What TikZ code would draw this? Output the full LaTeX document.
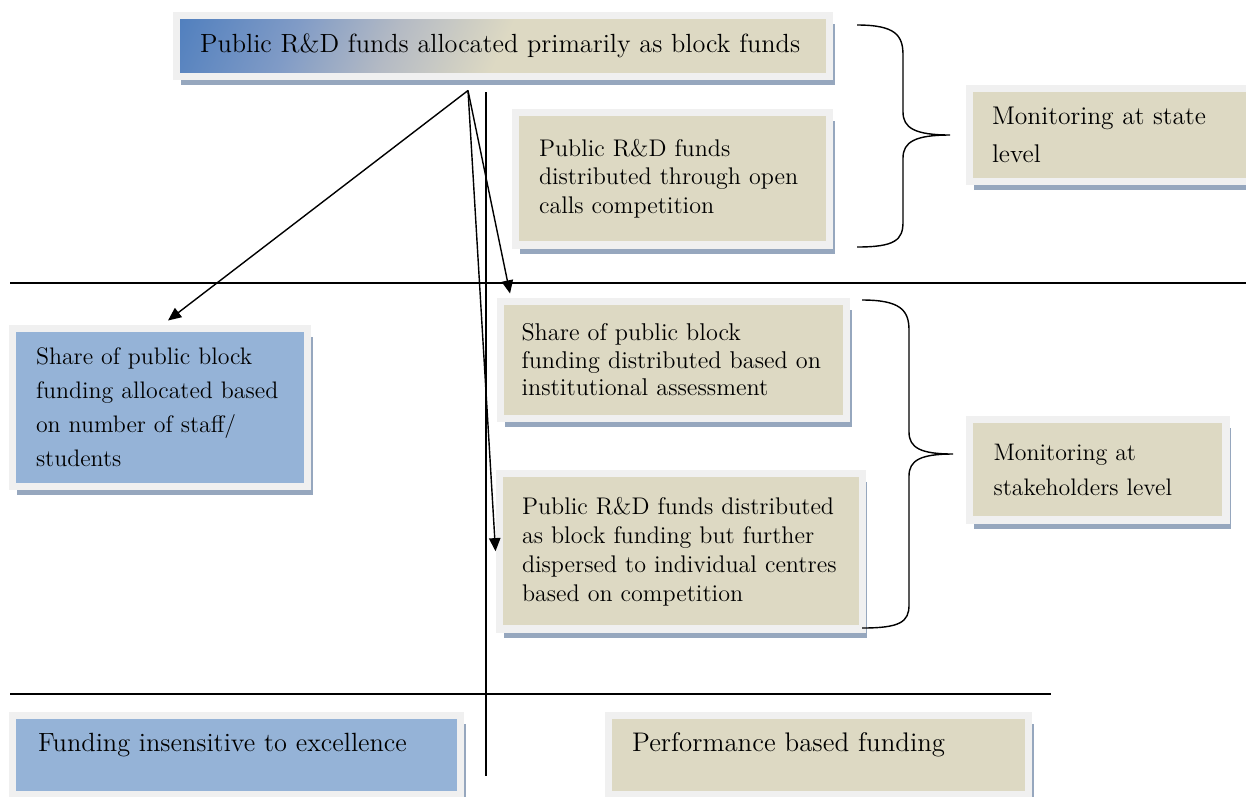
\documentclass[tikz,border=0pt]{standalone}
\usepackage{fontspec}
\setmainfont{lmroman12-regular}[Extension=.otf]
\usepackage{tikz}
\usetikzlibrary{arrows.meta,positioning,calc,shadows}
\definecolor{beige}{RGB}{221,217,195}
\definecolor{paleblue}{RGB}{149,179,215}
\definecolor{gblue}{RGB}{80,127,190}
\definecolor{glight}{RGB}{128,155,198}
\definecolor{gmid}{RGB}{180,186,196}
\definecolor{framegray}{gray}{0.94}
\definecolor{shadowblue}{RGB}{150,167,190}
\pgfdeclarehorizontalshading{topgrad}{100bp}{color(0bp)=(gblue); color(17bp)=(gblue); color(29bp)=(glight); color(39bp)=(gmid); color(50bp)=(beige); color(100bp)=(beige)}

\begin{document}
\begin{tikzpicture}[x=0.02cm, y=-0.02cm,
  box/.style={draw=framegray, line width=4pt, fill=#1, inner xsep=0.48cm, inner ysep=0pt, align=left,
    font=\fontsize{13.7}{16.2}\selectfont,
    drop shadow={shadow xshift=2.8pt, shadow yshift=-5pt, fill=shadowblue, opacity=1}},
  arr/.style={-{Triangle[length=7.5pt,width=6.5pt]}, line width=0.8pt},
  divider/.style={line width=1pt},
  brc/.style={line width=0.8pt},
]
\useasboundingbox (0,0) rectangle (1246,796);

\node[box=beige, shade, shading=topgrad, shading angle=-24, minimum width=13.08cm, minimum height=1.22cm, text width=12.12cm,
  font=\fontsize{14.95}{17}\selectfont] (top) at (503,46) {Public R\&D funds allocated primarily as block funds};
\node[box=beige, minimum width=6.3cm, minimum height=2.66cm, text width=5.34cm] (calls) at (672.5,178.5)
  {Public R\&D funds\\ distributed through open\\ calls competition};
\node[box=beige, inner xsep=0.45cm, minimum width=5.61cm, minimum height=1.87cm, text width=4.71cm,
  font=\fontsize{14.55}{21.6}\selectfont] (state) at (1109.75,134.75) {Monitoring at state\\ level};

\node[box=paleblue, minimum width=5.92cm, minimum height=3.17cm, text width=4.96cm,
  font=\fontsize{13.6}{19.3}\selectfont] (staff) at (160,407.25)
  {Share of public block\\ funding allocated based\\ on number of staff/\\ students};
\node[box=beige, inner xsep=0.42cm, minimum width=6.93cm, minimum height=2.35cm, text width=6.09cm,
  font=\fontsize{13.8}{15.6}\selectfont] (assess) at (673.75,359.75)
  {Share of public block\\ funding distributed based on\\ institutional assessment};
\node[box=beige, inner xsep=0.46cm, minimum width=7.27cm, minimum height=3.11cm, text width=6.35cm,
  font=\fontsize{13.7}{16.5}\selectfont] (centres) at (680.75,551.25)
  {Public R\&D funds distributed\\ as block funding but further\\ dispersed to individual centres\\ based on competition};
\node[box=beige, minimum width=5.13cm, minimum height=2.01cm, text width=4.17cm,
  font=\fontsize{13.6}{20}\selectfont] (stake) at (1097.75,469.75) {Monitoring at\\ stakeholders level};

\node[box=paleblue, inner xsep=0.52cm, minimum width=8.98cm, minimum height=1.58cm, text width=7.94cm,
  text depth=14pt, font=\fontsize{15}{17}\selectfont] (insens) at (236.5,754.5) {Funding insensitive to excellence};
\node[box=beige, minimum width=8.42cm, minimum height=1.58cm, text width=7.46cm,
  text depth=14pt, font=\fontsize{15.3}{17}\selectfont] (perf) at (818.5,754.5) {Performance based funding};

\coordinate (ruleAw) at (10,283);
\coordinate (ruleAe) at (1246,283);
\coordinate (ruleBw) at (10,694);
\coordinate (ruleBe) at (1051,694);
\coordinate (axisN) at (486,92);
\coordinate (axisS) at (486,776);
\draw[divider] (ruleAw) -- (ruleAe);
\draw[divider] (ruleBw) -- (ruleBe);
\draw[divider] (axisN) -- (axisS);

\coordinate (fork) at ($(top.south)+(-35,10.5)$);
\draw[arr] (fork) -- ($(staff.north)+(8,-4)$);
\draw[arr] (fork) -- ($(assess.north west)+(13,-4)$);
\draw[arr] (fork) -- (centres.west);

\draw[brc] (857,25) .. controls (895,25) and (903,35) .. (903,55) -- (903,112)
  .. controls (903,128) and (915,135) .. (950,135) .. controls (915,135) and (903,142) .. (903,158)
  -- (903,222) .. controls (903,240) and (895,247) .. (857,247);
\draw[brc] (862,300) .. controls (900,300) and (909,310) .. (909,330) -- (909,432)
  .. controls (909,448) and (921,454) .. (953,454) .. controls (921,454) and (909,460) .. (909,476)
  -- (909,605) .. controls (909,622) and (900,628) .. (862,628);
\end{tikzpicture}
\end{document}
